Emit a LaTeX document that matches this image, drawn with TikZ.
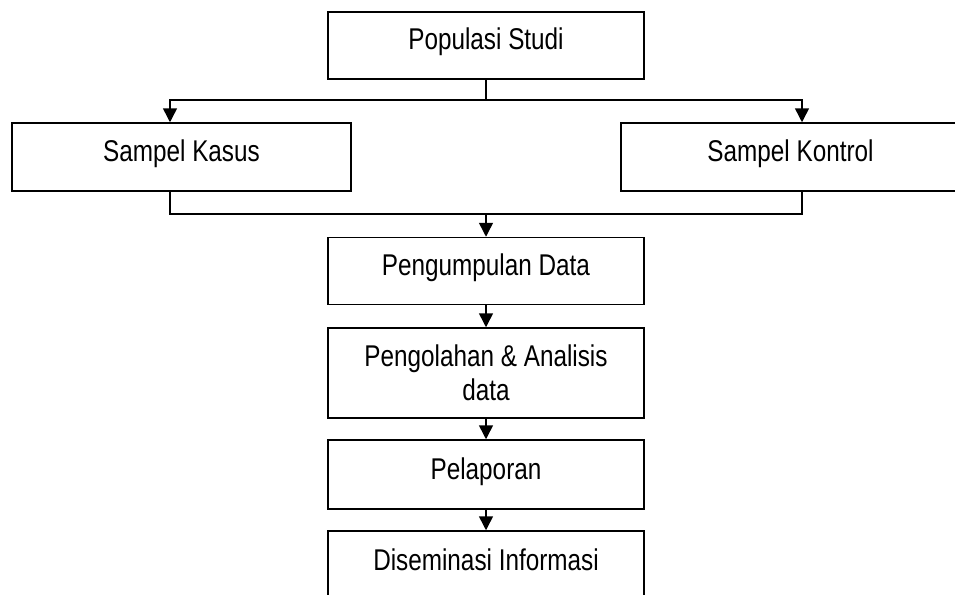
\documentclass[tikz,border=0pt]{standalone}
\usepackage{fontspec}
\setmainfont{Liberation Sans}[FakeStretch=0.81]
\usetikzlibrary{arrows.meta}
\begin{document}
\begin{tikzpicture}[x=1pt,y=-1pt,
  box/.style={draw, line width=1.5pt, rectangle, align=center,
    font=\fontsize{30}{34.5}\selectfont, inner sep=0pt},
  one/.style={text height=21pt, text depth=12pt},
  cbox/.style={box, minimum width=316pt},
  sbox/.style={box, one, minimum width=339pt, minimum height=68pt},
  link/.style={line width=1.5pt},
  arr/.style={link, -{Triangle[width=14pt,length=14pt]}}]
\useasboundingbox (0,0) rectangle (955,594);
\clip (0,0) rectangle (955,594);
\node[cbox, one, minimum height=67pt] (pop) at (486,45.5) {Populasi Studi};
\node[sbox] (kasus) at (181.5,157) {Sampel Kasus};
\node[sbox] (kontrol) at (790.5,157) {Sampel Kontrol};
\node[cbox, one, minimum height=67pt] (peng) at (486,271) {Pengumpulan Data};
\node[cbox, minimum height=90pt] (olah) at (486,373) {Pengolahan \& Analisis\\data};
\node[cbox, one, minimum height=69pt] (lapor) at (486,474.5) {Pelaporan};
\node[cbox, one, minimum height=69pt] (disem) at (486,565.5) {Diseminasi Informasi};
\coordinate (split) at (486,100);
\coordinate (merge) at (486,214);
\coordinate (kasIn) at ([xshift=-11.5pt]kasus.north);
\coordinate (konIn) at ([xshift=11.5pt]kontrol.north);
\coordinate (kasOut) at ([xshift=-11.5pt]kasus.south);
\coordinate (konOut) at ([xshift=11.5pt]kontrol.south);
\draw[link] (pop) -- (split);
\draw[arr] (split) -| (kasIn);
\draw[arr] (split) -| (konIn);
\draw[link] (kasOut) |- (merge) -| (konOut);
\draw[arr] (merge) -- (peng);
\draw[arr] (peng) -- (olah);
\draw[arr] (olah) -- (lapor);
\draw[arr] (lapor) -- (disem);
\end{tikzpicture}
\end{document}
